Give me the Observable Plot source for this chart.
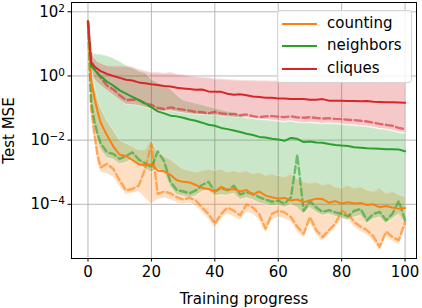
<!DOCTYPE html>
<html><head><meta charset="utf-8">
<script src="https://cdn.jsdelivr.net/npm/d3@7"></script>
<script src="https://cdn.jsdelivr.net/npm/@observablehq/plot@0.6"></script>
<style>
body{margin:0;background:#fff;}
#wrap{position:relative;width:422px;height:308px;font-family:"DejaVu Sans",sans-serif;color:#000;}
#legend{position:absolute;left:277px;top:10px;width:135px;height:73px;box-sizing:border-box;border:1px solid #d5d5d5;border-radius:3px;background:rgba(255,255,255,0.82);}
.item{position:absolute;left:0;width:100%;height:0;}
.swatch{position:absolute;left:4px;width:35px;height:2px;top:-1px;}
.lab{position:absolute;left:49px;top:-10px;font-size:15px;line-height:19px;white-space:nowrap;}
</style></head>
<body><div id="wrap"><div id="chart"></div><div id="legend"></div></div>
<script>
const progress = [0,1,2,3,4,6,8,10,12,14,16,18,20,22,24,26,28,30,32,34,36,38,40,42,44,46,48,50,52,54,56,58,60,62,64,66,68,70,72,74,76,78,80,82,84,86,88,90,92,94,96,98,100];
const seriesNames = ["counting","neighbors","cliques"];
const seriesColors = ["#ff7f0e","#2ca02c","#d62728"];
const xTicks = [0,20,40,60,80,100];
const yTicks = [1e2,1,1e-2,1e-4];
const yTickLabels = ["10²","10⁰","10⁻²","10⁻⁴"];

// counting
const countingSolid = [50,0.71,0.214,0.081,0.035,0.0141,6.3e-3,3.5e-3,3.2e-3,2.4e-3,1.78e-3,1.66e-3,1.78e-3,1.12e-3,1.07e-3,8.3e-4,5.6e-4,5.0e-4,4.8e-4,4.0e-4,3.2e-4,3.0e-4,2.5e-4,3.5e-4,2.8e-4,3.0e-4,2.5e-4,2.8e-4,2.0e-4,2.5e-4,1.86e-4,1.66e-4,1.5e-4,1.58e-4,1.32e-4,1.41e-4,1.17e-4,1.32e-4,1.5e-4,1.45e-4,1.12e-4,1.26e-4,1.05e-4,1.15e-4,1.05e-4,1.1e-4,9.5e-5,1.0e-4,8.1e-5,8.9e-5,7.9e-5,7.2e-5,7.6e-5];
const countingDashed = [50,0.10,0.0158,3.5e-3,1.41e-3,1.82e-3,1.26e-3,5.5e-4,2.7e-4,3.0e-4,3.8e-4,1.26e-3,7.6e-3,2.1e-4,2.5e-4,2.2e-4,1.66e-4,1.41e-4,1.58e-4,1.32e-4,7.9e-5,5.0e-5,2.5e-5,5.0e-5,7.9e-5,6.3e-5,4.5e-5,1.0e-4,7.9e-5,5.0e-5,1.74e-5,5.0e-5,6.3e-5,5.6e-5,4.0e-5,2.0e-5,1.2e-5,4.0e-5,1.55e-5,9.5e-6,1.58e-5,2.5e-5,6.3e-5,5.0e-5,2.8e-5,2.0e-5,1.55e-5,1.0e-5,4.7e-6,1.41e-5,9.5e-6,7.6e-6,2.8e-5];
const countingLow = [50,0.063,0.010,2.0e-3,1.0e-3,8.9e-4,7.1e-4,3.5e-4,2.0e-4,2.2e-4,2.5e-4,1.58e-4,1.0e-4,1.41e-4,1.58e-4,1.41e-4,1.12e-4,1.0e-4,1.12e-4,8.9e-5,5.6e-5,3.5e-5,1.78e-5,3.5e-5,5.0e-5,4.0e-5,3.2e-5,5.6e-5,5.0e-5,3.2e-5,1.26e-5,3.2e-5,4.0e-5,3.5e-5,2.8e-5,1.41e-5,8.9e-6,2.5e-5,1.12e-5,7.1e-6,1.12e-5,1.78e-5,3.5e-5,3.2e-5,2.0e-5,1.41e-5,1.12e-5,7.1e-6,3.5e-6,1.0e-5,7.1e-6,5.6e-6,1.78e-5];
const countingHigh = [50,2.0,0.5,0.2,0.1,0.04,0.02,0.01,7.9e-3,6.3e-3,5.0e-3,5.0e-3,1.0e-2,4.0e-3,3.2e-3,2.5e-3,1.78e-3,1.26e-3,1.12e-3,1.0e-3,1.12e-3,1.26e-3,1.12e-3,1.26e-3,1.0e-3,1.12e-3,1.0e-3,1.12e-3,8.9e-4,1.0e-3,7.9e-4,8.9e-4,7.9e-4,7.1e-4,8.9e-4,6.3e-4,5.0e-4,4.5e-4,5.0e-4,4.0e-4,4.5e-4,3.5e-4,3.2e-4,4.0e-4,3.2e-4,3.5e-4,2.8e-4,2.5e-4,3.2e-4,2.2e-4,2.5e-4,2.0e-4,1.78e-4];

// neighbors
const neighborsSolid = [50,2.0,1.58,1.2,1.0,0.66,0.50,0.355,0.28,0.224,0.178,0.141,0.105,0.079,0.068,0.058,0.055,0.050,0.044,0.040,0.035,0.030,0.028,0.024,0.022,0.020,0.018,0.0158,0.0145,0.0126,0.012,0.011,0.0105,0.0095,0.0117,0.011,0.0087,0.0091,0.0085,0.0083,0.0076,0.0071,0.0068,0.0066,0.006,0.0058,0.0056,0.0055,0.0054,0.0052,0.0052,0.0051,0.0045];
const neighborsDashed = [50,0.158,0.040,0.0158,0.0079,4.2e-3,3.7e-3,2.6e-3,3.2e-3,4.2e-3,2.5e-3,1.9e-3,1.4e-3,4.5e-3,2.2e-3,5.0e-4,2.8e-4,2.5e-4,2.2e-4,2.7e-4,4.0e-4,5.0e-4,2.5e-4,3.2e-4,2.75e-4,3.8e-4,2.0e-4,2.4e-4,2.1e-4,1.66e-4,1.4e-4,1.2e-4,1.3e-4,1.05e-4,1.6e-4,3.5e-3,6.3e-5,1.26e-4,7.9e-5,5.8e-5,6.6e-5,5.6e-5,5.0e-5,4.2e-5,6.3e-5,7.1e-5,3.2e-5,5.0e-5,5.8e-5,3.2e-5,5.0e-5,1.26e-4,3.2e-5];
const neighborsLow = [50,0.10,0.025,0.010,5.0e-3,2.8e-3,2.5e-3,1.8e-3,2.0e-3,2.5e-3,1.8e-3,1.26e-3,1.0e-3,1.26e-3,1.0e-3,3.5e-4,2.0e-4,1.8e-4,1.6e-4,1.8e-4,2.5e-4,2.8e-4,1.8e-4,2.0e-4,1.9e-4,2.2e-4,1.4e-4,1.6e-4,1.4e-4,1.1e-4,1.0e-4,8.9e-5,9.5e-5,7.9e-5,1.0e-4,7.9e-5,5.0e-5,7.9e-5,5.6e-5,4.5e-5,5.0e-5,4.2e-5,3.8e-5,3.2e-5,4.0e-5,4.5e-5,2.5e-5,3.5e-5,4.0e-5,2.5e-5,3.5e-5,5.0e-5,2.5e-5];
const neighborsHigh = [50,5.6,4.8,4.7,4.6,4.2,3.5,2.8,2.1,1.78,1.41,1.26,0.79,0.63,0.50,0.40,0.25,0.178,0.158,0.141,0.126,0.112,0.100,0.089,0.079,0.071,0.063,0.048,0.046,0.043,0.042,0.040,0.038,0.036,0.038,0.035,0.034,0.035,0.033,0.032,0.032,0.032,0.030,0.029,0.028,0.027,0.026,0.024,0.022,0.021,0.019,0.017,0.016];

// cliques
const cliquesSolid = [50,2.5,2.0,1.66,1.41,1.15,1.0,0.87,0.76,0.72,0.63,0.59,0.55,0.52,0.49,0.47,0.43,0.41,0.39,0.37,0.38,0.33,0.32,0.32,0.28,0.26,0.27,0.25,0.23,0.22,0.21,0.21,0.20,0.20,0.19,0.19,0.19,0.18,0.18,0.19,0.17,0.17,0.17,0.166,0.166,0.162,0.166,0.158,0.155,0.151,0.151,0.148,0.145];
const cliquesDashed = [50,3.2,1.8,1.26,0.89,0.50,0.38,0.25,0.178,0.182,0.178,0.138,0.126,0.100,0.093,0.105,0.095,0.089,0.083,0.076,0.074,0.069,0.076,0.068,0.065,0.066,0.060,0.063,0.056,0.052,0.055,0.056,0.054,0.052,0.055,0.051,0.050,0.052,0.049,0.047,0.048,0.046,0.045,0.043,0.042,0.040,0.038,0.035,0.032,0.030,0.028,0.024,0.022];
const cliquesLow = [50,1.6,0.79,0.63,0.50,0.355,0.25,0.178,0.132,0.126,0.120,0.105,0.095,0.083,0.079,0.083,0.076,0.071,0.066,0.063,0.063,0.060,0.060,0.056,0.054,0.052,0.050,0.050,0.048,0.045,0.044,0.042,0.040,0.038,0.040,0.037,0.035,0.036,0.035,0.033,0.034,0.033,0.032,0.030,0.030,0.028,0.027,0.025,0.023,0.022,0.020,0.018,0.017];
const cliquesHigh = [50,6.3,3.5,2.8,2.5,2.1,2.0,2.0,2.0,1.9,1.6,1.4,1.26,1.26,1.2,1.26,1.12,1.07,1.0,0.93,0.89,0.87,0.79,0.79,0.76,0.74,0.72,0.71,0.71,0.70,0.70,0.69,0.69,0.68,0.68,0.68,0.67,0.67,0.67,0.66,0.66,0.66,0.65,0.65,0.65,0.64,0.64,0.64,0.63,0.63,0.63,0.62,0.62];

const solids = [countingSolid, neighborsSolid, cliquesSolid];
const dashes = [countingDashed, neighborsDashed, cliquesDashed];
const lows = [countingLow, neighborsLow, cliquesLow];
const highs = [countingHigh, neighborsHigh, cliquesHigh];

const tables = seriesNames.map((name, k) => progress.map((t, i) => ({
  t, series: name, solid: solids[k][i], dashed: dashes[k][i], lo: lows[k][i], hi: highs[k][i]
})));

const bandMarks = [];
const edgeMarks = [];
const dashMarks = [];
const solidMarks = [];
tables.forEach((rows, k) => {
  const c = seriesColors[k];
  bandMarks.push(Plot.areaY(rows, {x: "t", y1: "lo", y2: "hi", fill: c, fillOpacity: 0.25, clip: true}));
  edgeMarks.push(Plot.line(rows, {x: "t", y: "lo", stroke: "white", strokeOpacity: 0.45, strokeWidth: 0.8, clip: true}));
  edgeMarks.push(Plot.line(rows, {x: "t", y: "hi", stroke: "white", strokeOpacity: 0.45, strokeWidth: 0.8, clip: true}));
  dashMarks.push(Plot.line(rows, {x: "t", y: "dashed", stroke: c, strokeOpacity: 0.6, strokeWidth: 2.4, strokeDasharray: "7,3.5", clip: true}));
  solidMarks.push(Plot.line(rows, {x: "t", y: "solid", stroke: c, strokeWidth: 2, clip: true}));
});

const chart = Plot.plot({
  width: 422, height: 308,
  marginLeft: 71, marginRight: 6, marginTop: 2, marginBottom: 50,
  style: {fontFamily: "DejaVu Sans", fontSize: "15px", color: "black", background: "white"},
  x: {domain: [-5.2, 103.6]},
  y: {type: "log", domain: [Math.pow(10, -5.69), Math.pow(10, 2.29)]},
  marks: [
    Plot.gridX({ticks: xTicks, stroke: "#b0b0b0", strokeOpacity: 1, strokeWidth: 0.9}),
    Plot.gridY({ticks: yTicks, stroke: "#b0b0b0", strokeOpacity: 1, strokeWidth: 0.9}),
    ...bandMarks,
    ...edgeMarks,
    ...dashMarks,
    ...solidMarks,
    Plot.frame({stroke: "black", strokeWidth: 1}),
    Plot.axisX({ticks: xTicks, tickSize: 3.5, tickPadding: 4, tickFormat: d => String(d),
      label: "Training progress", labelAnchor: "center", labelArrow: "none", labelOffset: 45.5}),
    Plot.axisY({ticks: yTicks, tickSize: 3.5, tickPadding: 3,
      tickFormat: d => yTickLabels[yTicks.indexOf(d)],
      label: "Test MSE", labelAnchor: "center", labelArrow: "none", labelOffset: 68})
  ]
});
document.getElementById("chart").appendChild(chart);

// render exponents as raised, smaller text (like mathtext)
const supMap = {"²":"2","⁰":"0","⁻":"−","⁴":"4"};
chart.querySelectorAll('g[aria-label="y-axis tick label"] text').forEach(el => {
  const s = el.textContent;
  const base = s.slice(0, 2);
  const exp = Array.from(s.slice(2)).map(ch => supMap[ch] || ch).join("");
  el.textContent = "";
  const t1 = document.createElementNS("http://www.w3.org/2000/svg", "tspan");
  t1.textContent = base;
  const t2 = document.createElementNS("http://www.w3.org/2000/svg", "tspan");
  t2.setAttribute("dy", "-0.45em");
  t2.setAttribute("font-size", "0.7em");
  t2.textContent = exp;
  el.appendChild(t1);
  el.appendChild(t2);
});

const legend = document.getElementById("legend");
const itemTops = [12.5, 35, 58];
seriesNames.forEach((name, k) => {
  const it = document.createElement("div");
  it.className = "item";
  it.style.top = itemTops[k] + "px";
  it.innerHTML = `<div class="swatch" style="background:${seriesColors[k]}"></div><div class="lab">${name}</div>`;
  legend.appendChild(it);
});
</script></body></html>
